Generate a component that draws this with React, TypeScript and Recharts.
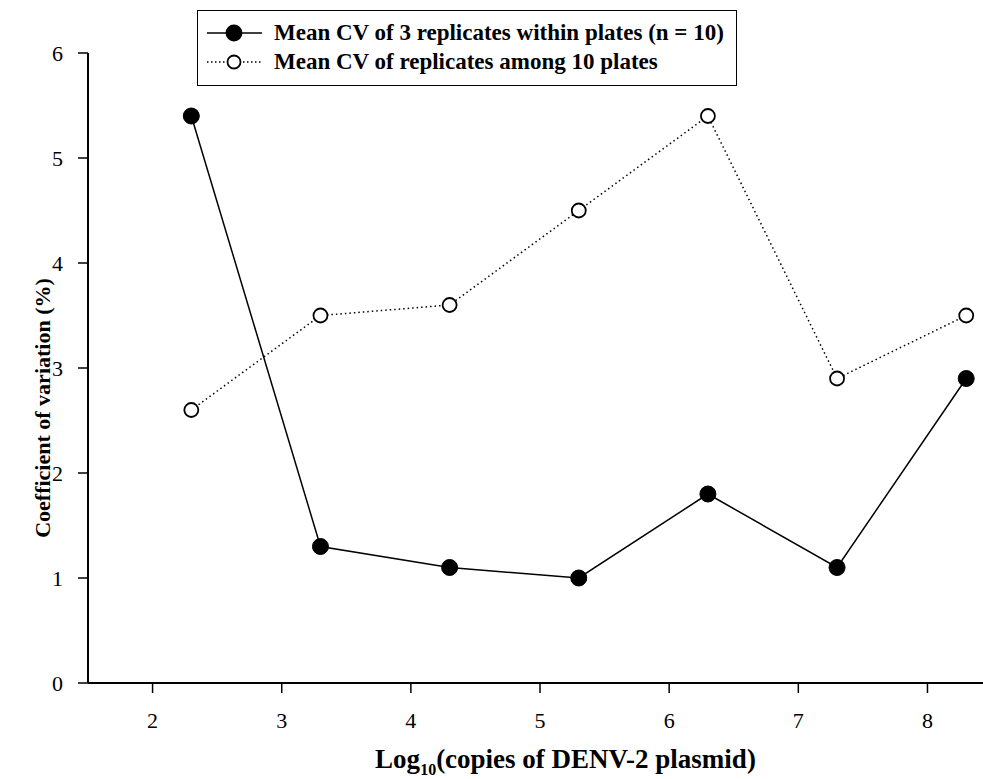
import React from "react";
import { LineChart, Line, XAxis, YAxis, Legend } from "recharts";

const xValues = [2.3, 3.3, 4.3, 5.3, 6.3, 7.3, 8.3];
const withinPlates = [5.4, 1.3, 1.1, 1.0, 1.8, 1.1, 2.9];
const amongPlates = [2.6, 3.5, 3.6, 4.5, 5.4, 2.9, 3.5];
const xTicks = [2, 3, 4, 5, 6, 7, 8];
const yTicks = [0, 1, 2, 3, 4, 5, 6];
const seriesNames = [
  "Mean CV of 3 replicates within plates (n = 10)",
  "Mean CV of replicates among 10 plates",
];

const data = xValues.map((x, i) => ({ x, a: withinPlates[i], b: amongPlates[i] }));

const FONT = '"Liberation Serif", "Times New Roman", serif';

const LegendBox = () => (
  <div
    style={{
      position: "relative",
      boxSizing: "border-box",
      width: 540,
      height: 76,
      border: "1.5px solid #000",
      background: "#fff",
      fontFamily: FONT,
      fontWeight: "bold",
      fontSize: 23,
      color: "#000",
      whiteSpace: "nowrap",
    }}
  >
    {seriesNames.map((name, i) => (
      <div
        key={i}
        style={{
          position: "absolute",
          left: 0,
          top: (i === 0 ? 22 : 51) - 13,
          height: 26,
          lineHeight: "26px",
          display: "flex",
          alignItems: "center",
        }}
      >
        <svg width={76} height={26} style={{ flex: "none" }}>
          <line
            x1={9}
            y1={13}
            x2={64}
            y2={13}
            stroke="#000"
            strokeWidth={1.5}
            strokeDasharray={i === 1 ? "1.5 2.5" : undefined}
          />
          <circle
            cx={36}
            cy={13}
            r={i === 0 ? 7.5 : 6.5}
            fill={i === 0 ? "#000" : "#fff"}
            stroke="#000"
            strokeWidth={1.8}
          />
        </svg>
        <span>{name}</span>
      </div>
    ))}
  </div>
);

const XLabel = (props: any) => {
  const vb = props.viewBox || {};
  const cx = vb.x + vb.width / 2 + 30;
  return (
    <text
      x={cx}
      y={vb.y + 85}
      textAnchor="middle"
      fontFamily={FONT}
      fontWeight="bold"
      fontSize={27}
      fill="#000"
    >
      <tspan>Log</tspan>
      <tspan fontSize={16} dy={7}>10</tspan>
      <tspan dy={-7}>(copies of DENV-2 plasmid)</tspan>
    </text>
  );
};

const YLabel = (props: any) => {
  const vb = props.viewBox || {};
  const cy = vb.y + vb.height / 2 + 40;
  const x = 50;
  return (
    <text
      x={x}
      y={cy}
      transform={`rotate(-90 ${x} ${cy})`}
      textAnchor="middle"
      fontFamily={FONT}
      fontWeight="bold"
      fontSize={22}
      fill="#000"
    >
      Coefficient of variation (%)
    </text>
  );
};

export default function App() {
  return (
    <div style={{ position: "absolute", left: 0, top: 0, background: "#fff" }}>
      <LineChart
        width={983}
        height={779}
        data={data}
        margin={{ top: 53, right: 0, left: 0, bottom: 0 }}
      >
        <XAxis
          dataKey="x"
          type="number"
          domain={[1.5, 8.43]}
          ticks={xTicks}
          allowDataOverflow
          height={96}
          stroke="#000"
          strokeWidth={2}
          tickSize={10}
          tickMargin={19}
          tickLine={{ stroke: "#000", strokeWidth: 1.5 }}
          tick={{ fill: "#000", fontFamily: FONT, fontSize: 22 }}
          label={<XLabel />}
        />
        <YAxis
          type="number"
          domain={[0, 6]}
          ticks={yTicks}
          width={88}
          stroke="#000"
          strokeWidth={2}
          tickSize={10}
          tickMargin={15}
          tickLine={{ stroke: "#000", strokeWidth: 1.5 }}
          tick={{ fill: "#000", fontFamily: FONT, fontSize: 22 }}
          label={<YLabel />}
        />
        <Legend
          layout="horizontal"
          verticalAlign="middle"
          align="center"
          content={<LegendBox />}
          wrapperStyle={{ top: 10, left: 197, width: "auto" }}
        />
        <Line
          dataKey="a"
          stroke="#000"
          strokeWidth={1.5}
          dot={{ r: 8, fill: "#000", stroke: "#000", strokeWidth: 1 }}
          activeDot={false}
          isAnimationActive={false}
        />
        <Line
          dataKey="b"
          stroke="#000"
          strokeWidth={1.5}
          strokeDasharray="1.5 3"
          dot={{ r: 7, fill: "#fff", stroke: "#000", strokeWidth: 1.8, strokeDasharray: "" }}
          activeDot={false}
          isAnimationActive={false}
        />
      </LineChart>
    </div>
  );
}
